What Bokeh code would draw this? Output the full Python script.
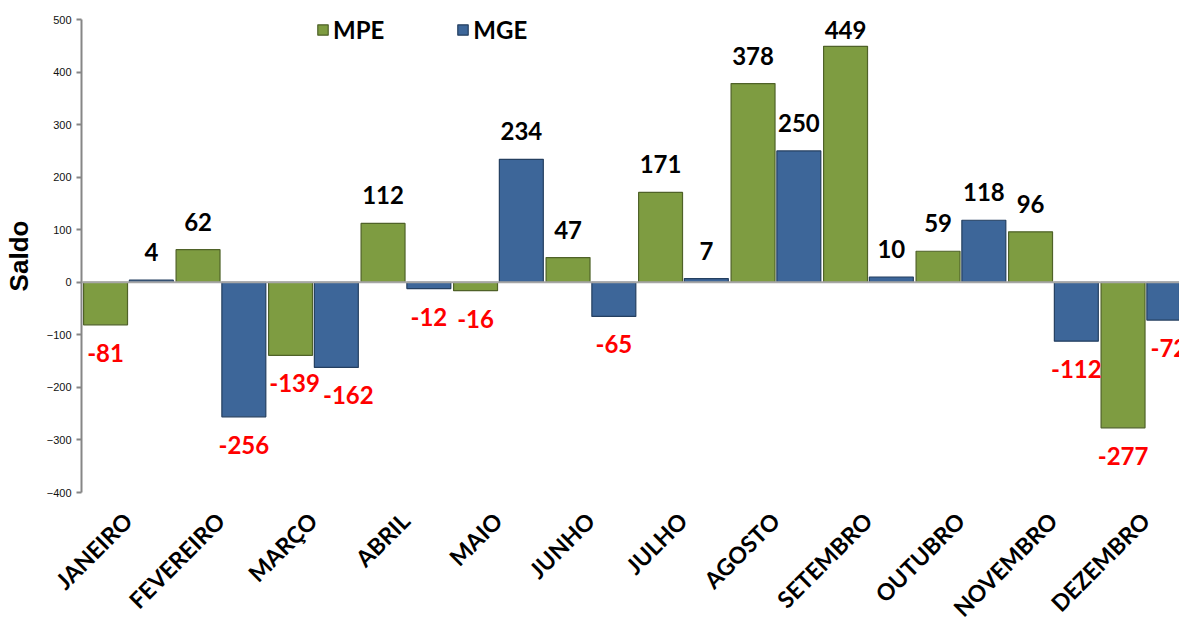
from bokeh.plotting import figure
from bokeh.models import (FixedTicker, Range1d, Span, Legend, LegendItem, ColumnDataSource,
                          GlobalInlineStyleSheet)
from bokeh.core.properties import value
from bokeh.embed import file_html
from bokeh.resources import INLINE

months = ["JANEIRO", "FEVEREIRO", "MARÇO", "ABRIL", "MAIO", "JUNHO", "JULHO",
          "AGOSTO", "SETEMBRO", "OUTUBRO", "NOVEMBRO", "DEZEMBRO"]
mpe = [-81, 62, -139, 112, -16, 47, 171, 378, 449, 59, 96, -277]
mge = [4, -256, -162, -12, 234, -65, 7, 250, 10, 118, -112, -72]
y_ticks = [-400, -300, -200, -100, 0, 100, 200, 300, 400, 500]

GREEN = "#7E9C41"
GREEN_EDGE = "#4F6228"
BLUE = "#3D6699"
BLUE_EDGE = "#243F60"

Y0, Y1 = -400, 500
FRAME_H = 473
FRAME_W = 1098
px_per_unit = FRAME_H / (Y1 - Y0)

idx = list(range(len(months)))
x_mpe = [i + 0.26 for i in idx]
x_mge = [i + 0.755 for i in idx]
bw = 0.475


def offsets(vals):
    out = []
    for v in vals:
        if v >= 0:
            out.append(-min(28, (Y1 - v) * px_per_unit - 10))
        else:
            out.append(28)
    return out


def x_shifts(own, other, outward):
    # nudge two neighbouring negative labels apart when they would collide
    return [outward if (a < 0 and b < 0 and abs(a - b) * px_per_unit < 30) else 0
            for a, b in zip(own, other)]


p = figure(frame_width=FRAME_W, frame_height=FRAME_H, output_backend="svg", toolbar_location=None,
           x_range=Range1d(0, FRAME_W / 92.5), y_range=Range1d(Y0, Y1),
           min_border_left=81, min_border_top=19, min_border_right=0, min_border_bottom=60)
p.stylesheets = [GlobalInlineStyleSheet(css="html, body { margin: 0 !important; overflow: hidden !important; }")]
p.outline_line_color = None
p.xgrid.visible = False
p.ygrid.visible = False

src_mpe = ColumnDataSource(dict(x=x_mpe, v=mpe, t=[str(v) for v in mpe],
                                c=["black" if v >= 0 else "#FF0000" for v in mpe],
                                off=offsets(mpe), xo=x_shifts(mpe, mge, 4)))
src_mge = ColumnDataSource(dict(x=x_mge, v=mge, t=[str(v) for v in mge],
                                c=["black" if v >= 0 else "#FF0000" for v in mge],
                                off=offsets(mge), xo=x_shifts(mge, mpe, 12)))

r_mpe = p.vbar(x="x", top="v", bottom=0, width=bw, source=src_mpe,
               fill_color=GREEN, line_color=GREEN_EDGE, line_width=1.2)
r_mge = p.vbar(x="x", top="v", bottom=0, width=bw, source=src_mge,
               fill_color=BLUE, line_color=BLUE_EDGE, line_width=1.2)

p.add_layout(Span(location=0, dimension="width", line_color="#A6A6A6", line_width=2))

for src in (src_mpe, src_mge):
    p.text(x="x", y="v", text="t", y_offset="off", x_offset="xo", text_color="c", source=src,
           text_align="center", text_baseline="middle",
           text_font=value("Lato"), text_font_style="bold", text_font_size="24px")

# axes
p.yaxis.ticker = FixedTicker(ticks=y_ticks)
p.yaxis.minor_tick_line_color = None
p.yaxis.major_tick_in = 0
p.yaxis.major_tick_out = 5
p.yaxis.axis_line_color = "#868686"
p.yaxis.axis_line_width = 2
p.yaxis.major_tick_line_color = "#868686"
p.yaxis.major_tick_line_width = 2
p.yaxis.major_label_text_font = "Liberation Sans"
p.yaxis.major_label_text_font_size = "11px"
p.yaxis.major_label_text_color = "#111111"
p.yaxis.axis_label = "Saldo"
p.yaxis.axis_label_text_font = "Liberation Sans"
p.yaxis.axis_label_text_font_style = "bold"
p.yaxis.axis_label_text_font_size = "26px"
p.yaxis.axis_label_text_color = "black"
p.yaxis.axis_label_standoff = 10

p.xaxis.ticker = FixedTicker(ticks=[i + 0.5 for i in idx])
p.xaxis.major_label_overrides = {i + 0.5: m for i, m in enumerate(months)}
p.xaxis.major_label_orientation = 0.785398
p.xaxis.axis_line_color = None
p.xaxis.major_tick_line_color = None
p.xaxis.minor_tick_line_color = None
p.xaxis.major_label_text_font = "Lato"
p.xaxis.major_label_text_font_style = "bold"
p.xaxis.major_label_text_font_size = "23px"
p.xaxis.major_label_text_color = "black"
p.xaxis.major_label_standoff = 18

legend = Legend(items=[LegendItem(label="MPE", renderers=[r_mpe]),
                       LegendItem(label="MGE", renderers=[r_mge])],
                orientation="horizontal", location=(235, 448),
                label_text_font="Lato", label_text_font_style="bold",
                label_text_color="black",
                label_text_font_size="24px", glyph_width=13, glyph_height=13,
                label_standoff=4, spacing=72, border_line_color=None,
                background_fill_alpha=0, padding=0, margin=0)
p.add_layout(legend)

open("out.html", "w").write(file_html(p, INLINE))
